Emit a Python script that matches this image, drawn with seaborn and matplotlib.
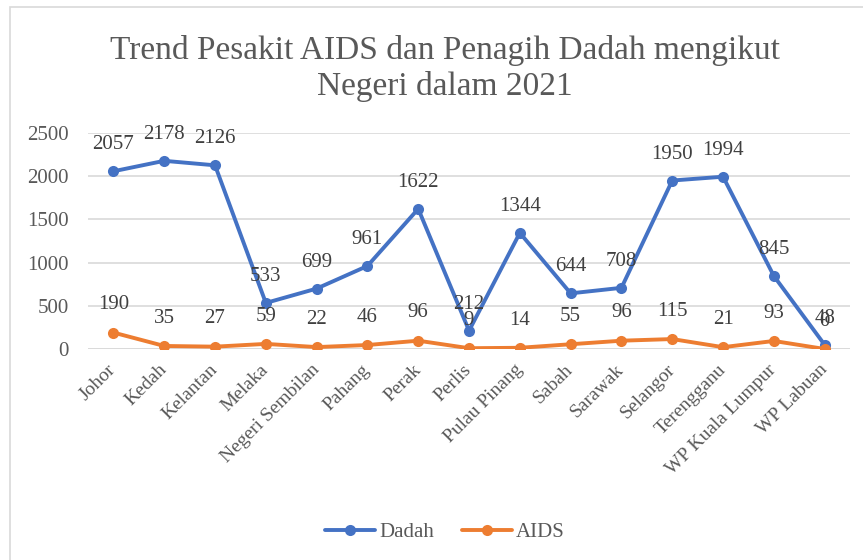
import pandas as pd
import seaborn as sns
import matplotlib.pyplot as plt
from matplotlib.patches import Rectangle

negeri = ['Johor', 'Kedah', 'Kelantan', 'Melaka', 'Negeri Sembilan', 'Pahang', 'Perak',
          'Perlis', 'Pulau Pinang', 'Sabah', 'Sarawak', 'Selangor', 'Terengganu',
          'WP Kuala Lumpur', 'WP Labuan']
dadah = [2057, 2178, 2126, 533, 699, 961, 1622, 212, 1344, 644, 708, 1950, 1994, 845, 48]
aids = [190, 35, 27, 59, 22, 46, 96, 9, 14, 55, 96, 115, 21, 93, 0]

df = pd.DataFrame({'Negeri': negeri * 2,
                   'Jumlah': dadah + aids,
                   'Siri': ['Dadah'] * len(negeri) + ['AIDS'] * len(negeri)})

sns.set_style('white')
plt.rcParams['font.family'] = ['Liberation Serif', 'DejaVu Serif']
grey = '#595959'
colors = {'Dadah': '#4472C4', 'AIDS': '#ED7D31'}

fig = plt.figure(figsize=(8.63, 5.6), dpi=100)
ax = fig.add_axes([0.102, 0.3768, 0.883, 0.3857])

sns.lineplot(data=df, x='Negeri', y='Jumlah', hue='Siri', palette=colors, sort=False,
             marker='o', markersize=8, markeredgewidth=0, linewidth=2.8, ax=ax)

ax.set_xlim(-0.5, len(negeri) - 0.5)
ax.set_ylim(0, 2500)
ax.set_yticks(range(0, 2501, 500))
ax.yaxis.grid(True, color='#D9D9D9', linewidth=1.2)
ax.set_axisbelow(True)
for s in ax.spines.values():
    s.set_visible(False)
ax.axhline(0, color='#D9D9D9', linewidth=1.2, zorder=0)
ax.tick_params(axis='y', length=0, labelsize=15, colors=grey, pad=14)
ax.tick_params(axis='x', length=0, labelsize=14, colors=grey, pad=13)
ax.set_xticks(range(len(negeri)))
ax.set_xticklabels(negeri, rotation=45, ha='right', va='center', rotation_mode='anchor')
ax.set_xlabel('')
ax.set_ylabel('')

for i, (d, a) in enumerate(zip(dadah, aids)):
    ax.annotate(str(d), (i, d), xytext=(0, 19), textcoords='offset points',
                ha='center', va='center', fontsize=15, color='#404040')
    ax.annotate(str(a), (i, a), xytext=(0, 20), textcoords='offset points',
                ha='center', va='center', fontsize=15, color='#404040')

fig.text(0.5156, 0.878, 'Trend Pesakit AIDS dan Penagih Dadah mengikut\nNegeri dalam 2021',
         ha='center', va='center', fontsize=24, color=grey, linespacing=1.22)

handles, labels = ax.get_legend_handles_labels()
ax.legend(handles, labels, loc='center', bbox_to_anchor=(0.5156, 0.05),
          bbox_transform=fig.transFigure, ncol=2, frameon=False, fontsize=15,
          labelcolor=grey, handlelength=2.4, columnspacing=1.3, handletextpad=0.2)

fig.patches.append(Rectangle((10 / 863, -0.05), 1.2, 1.05 - 7 / 560, transform=fig.transFigure,
                             fill=False, edgecolor='#D9D9D9', linewidth=1.2))

fig.savefig('out.png', dpi=100)
